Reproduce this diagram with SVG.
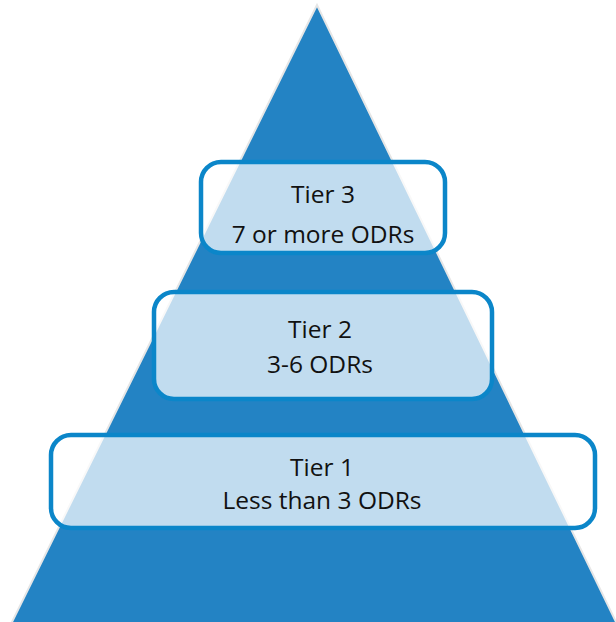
<svg xmlns="http://www.w3.org/2000/svg" width="616" height="622" viewBox="0 0 616 622">
<style>
.box{fill:#ffffff;fill-opacity:0.72;stroke:#0B86C9;stroke-width:4.5}
.lbl{font-family:"Open Sans","Liberation Sans",sans-serif;font-size:24.5px;fill:#111;text-anchor:middle}
</style>
<rect width="616" height="622" fill="#ffffff"/>
<g id="pyramid">
<polygon points="317,5 11,624 617,624" fill="#2383C4" stroke="#E6E6E6" stroke-width="2"/>
</g>
<g id="connectors"/>
<g id="tier3">
<rect class="box" x="201" y="162" width="244" height="91" rx="20"/>
<text class="lbl" x="323" y="203">Tier 3</text>
<text class="lbl" x="323" y="243">7 or more ODRs</text>
</g>
<g id="tier2">
<rect class="box" x="154" y="292" width="338" height="107" rx="20"/>
<text class="lbl" x="320" y="338">Tier 2</text>
<text class="lbl" x="320" y="373">3-6 ODRs</text>
</g>
<g id="tier1">
<rect class="box" x="51" y="435" width="544" height="93" rx="20"/>
<text class="lbl" x="322" y="476">Tier 1</text>
<text class="lbl" x="322" y="509">Less than 3 ODRs</text>
</g>
</svg>
